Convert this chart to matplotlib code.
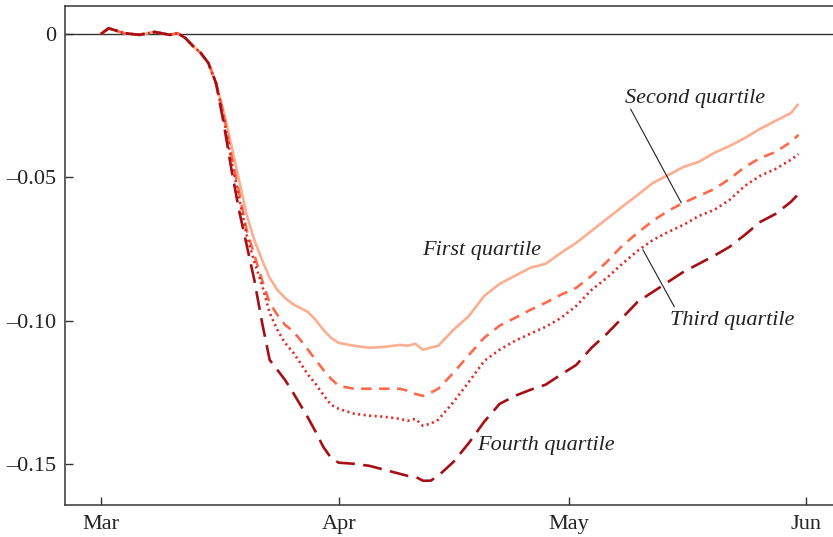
import numpy as np
import matplotlib
matplotlib.use("Agg")
import matplotlib.pyplot as plt
import matplotlib.dates as mdates
from matplotlib.ticker import FixedLocator, FuncFormatter

plt.rcParams['font.family'] = ['Liberation Serif', 'DejaVu Serif']
plt.rcParams['font.size'] = 16

# days since 1 March (2020)
start = np.datetime64('2020-03-01')
days = [0, 1, 3, 5, 7, 9, 10, 11, 12, 13, 14, 15, 16, 17, 18, 19, 20, 21, 22, 23,
        24, 25, 26, 27, 28, 29, 30, 31, 33, 35, 37, 39, 40, 41, 42, 43, 44, 46, 48,
        50, 52, 54, 56, 58, 60, 62, 64, 66, 68, 70, 72, 74, 76, 78, 80, 82, 84, 86,
        88, 90, 91]

# shared flat start (identical for every group up to mid March)
common = [0.0, 0.002, 0.0003, -0.0003, 0.0007, -0.0003, 0.0003, -0.0014,
          -0.0042, -0.0066, -0.0101, -0.0171]

first_q = common + [
    -0.027, -0.0387, -0.0509, -0.0631, -0.0719, -0.0788, -0.0851, -0.0893,
    -0.0921, -0.0942, -0.0956, -0.0970, -0.0998, -0.1032, -0.1060, -0.1078,
    -0.1088, -0.1095, -0.1092, -0.1085, -0.1088, -0.1081, -0.1102, -0.1095,
    -0.1088, -0.1032, -0.0984, -0.0914, -0.0872, -0.0844, -0.0816, -0.0802,
    -0.0764, -0.0729, -0.0687, -0.0645, -0.0603, -0.0562, -0.0520, -0.0492,
    -0.0464, -0.0446, -0.0415, -0.0391, -0.0363, -0.0331, -0.0303, -0.0276,
    -0.0244]

second_q = common + [
    -0.028, -0.0422, -0.0551, -0.0684, -0.0771, -0.0858, -0.0938, -0.0980,
    -0.1015, -0.1036, -0.1067, -0.1102, -0.1137, -0.1172, -0.1203, -0.1228,
    -0.1238, -0.1238, -0.1238, -0.1238, -0.1245, -0.1256, -0.1263, -0.1252,
    -0.1238, -0.1182, -0.1120, -0.1060, -0.1018, -0.0991, -0.0963, -0.0938,
    -0.0910, -0.0886, -0.0844, -0.0795, -0.0739, -0.0694, -0.0652, -0.0617,
    -0.0589, -0.0565, -0.0541, -0.0506, -0.0464, -0.0433, -0.0412, -0.0377,
    -0.0352]

third_q = common + [
    -0.029, -0.0440, -0.0569, -0.0701, -0.0795, -0.0875, -0.0973, -0.1032,
    -0.1078, -0.1109, -0.1148, -0.1189, -0.1221, -0.1259, -0.1294, -0.1308,
    -0.1325, -0.1332, -0.1336, -0.1343, -0.1350, -0.1343, -0.1367, -0.1360,
    -0.1346, -0.1284, -0.1214, -0.1141, -0.1102, -0.1071, -0.1046, -0.1022,
    -0.0991, -0.0949, -0.0893, -0.0851, -0.0802, -0.0757, -0.0719, -0.0691,
    -0.0666, -0.0635, -0.0614, -0.0579, -0.0530, -0.0495, -0.0471, -0.0439,
    -0.0419]

fourth_q = common + [
    -0.031, -0.0470, -0.0614, -0.0736, -0.0858, -0.1005, -0.1137, -0.1172,
    -0.1207, -0.1249, -0.1294, -0.1339, -0.1388, -0.1441, -0.1479, -0.1496,
    -0.1500, -0.1507, -0.1521, -0.1535, -0.1542, -0.1545, -0.1559, -0.1559,
    -0.1542, -0.1493, -0.1427, -0.1353, -0.1291, -0.1263, -0.1242, -0.1224,
    -0.1189, -0.1155, -0.1095, -0.1046, -0.0991, -0.0935, -0.0900, -0.0865,
    -0.0830, -0.0802, -0.0774, -0.0743, -0.0701, -0.0656, -0.0628, -0.0586,
    -0.0558]

labels = ['First quartile', 'Second quartile', 'Third quartile', 'Fourth quartile']
yticks = [0, -0.05, -0.10, -0.15]

base = mdates.date2num(start)
x = base + np.array(days, dtype=float)


def d(n):
    # fractional day offset -> matplotlib date number
    return base + n


fig = plt.figure(figsize=(8.33, 5.37), dpi=100)
ax = fig.add_axes([0.078, 0.06, 0.922, 0.929])

ax.axhline(0, color='#333333', lw=1.0, zorder=1)

ax.plot(x, first_q, color='#fcae91', lw=1.9, solid_capstyle='butt', zorder=3)
ax.plot(x, second_q, color='#fb6a4a', lw=1.9, dashes=(4.0, 2.8), dash_capstyle='butt', zorder=3)
ax.plot(x, third_q, color='#de2d26', lw=1.9, dashes=(0.8, 1.3), dash_capstyle='butt', zorder=3)
ax.plot(x, fourth_q, color='#a50f15', lw=1.9, dashes=(7.2, 3.2), dash_capstyle='butt', zorder=3)

txt = dict(fontsize=16, style='italic', color='#222222')
ax.text(d(49.6), -0.0755, labels[0], ha='center', va='center', **txt)
ax.text(d(77.5), -0.0224, labels[1], ha='center', va='center', **txt)
ax.text(d(82.4), -0.1000, labels[2], ha='center', va='center', **txt)
ax.text(d(58.0), -0.1435, labels[3], ha='center', va='center', **txt)

# pointer lines for the two middle quartiles
ax.annotate('', xy=(d(75.7), -0.0589), xytext=(d(69.1), -0.0262),
            arrowprops=dict(arrowstyle='-', color='#222222', lw=0.8, shrinkA=0, shrinkB=0))
ax.annotate('', xy=(d(70.7), -0.0753), xytext=(d(74.8), -0.0952),
            arrowprops=dict(arrowstyle='-', color='#222222', lw=0.8, shrinkA=0, shrinkB=0))

ax.set_xlim(d(-4.7), d(95.5))
ax.set_ylim(-0.1643, 0.0098)

ax.xaxis.set_major_locator(mdates.MonthLocator())
ax.xaxis.set_major_formatter(mdates.DateFormatter('%b'))
ax.yaxis.set_major_locator(FixedLocator(yticks))
ax.yaxis.set_major_formatter(FuncFormatter(lambda v, p: '0' if v == 0 else ('\u2013%.2f' % abs(v))))

ax.tick_params(direction='in', length=6, width=1, colors='#333333', labelcolor='#222222', labelsize=16)
ax.tick_params(axis='x', pad=7)
ax.tick_params(axis='y', pad=6)

for s in ['left', 'bottom', 'top']:
    ax.spines[s].set_color('#444444')
    ax.spines[s].set_linewidth(1.2)
ax.spines['right'].set_visible(False)

fig.savefig('out.png', dpi=100)
